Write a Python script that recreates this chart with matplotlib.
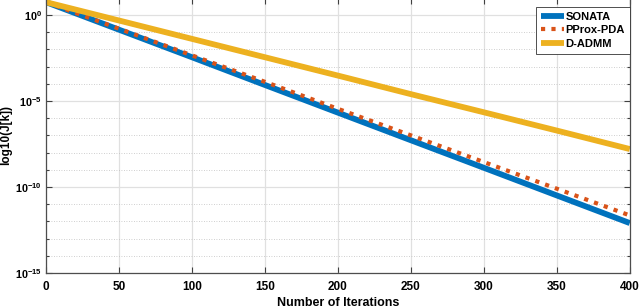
import numpy as np
import matplotlib
matplotlib.use("Agg")
import matplotlib.pyplot as plt
from matplotlib.ticker import FixedLocator, FixedFormatter, NullFormatter

plt.rcParams["font.family"] = ["Liberation Sans", "DejaVu Sans"]
plt.rcParams["font.weight"] = "bold"
plt.rcParams["mathtext.fontset"] = "custom"
plt.rcParams["mathtext.rm"] = "Liberation Sans:bold"
plt.rcParams["mathtext.bf"] = "Liberation Sans:bold"

# === data ===
iterations = [0, 50, 100, 150, 200, 250, 300, 350, 400]
sonata = [5.6, 1.4e-1, 3.5e-3, 8.5e-5, 2.1e-6, 5.2e-8, 1.3e-9, 3.2e-11, 7.9e-13]
pprox_pda = [5.6, 1.6e-1, 4.5e-3, 1.3e-4, 3.5e-6, 1.0e-7, 2.8e-9, 7.9e-11, 2.2e-12]
d_admm = [5.6, 4.8e-1, 4.1e-2, 3.5e-3, 3.0e-4, 2.5e-5, 2.2e-6, 1.9e-7, 1.6e-8]

x_ticks = [0, 50, 100, 150, 200, 250, 300, 350, 400]
y_major = [1e-15, 1e-10, 1e-5, 1e0]
y_major_labels = [r"$10^{-15}$", r"$10^{-10}$", r"$10^{-5}$", r"$10^{0}$"]

# === plot ===
fig = plt.figure(figsize=(6.4, 3.08), dpi=100)
ax = fig.add_axes([0.072, 0.114, 0.912, 0.893])

ax.semilogy(iterations, sonata, color="#0072BD", lw=4.2, label="SONATA", solid_capstyle="butt")
ax.semilogy(iterations, pprox_pda, color="#D95319", lw=3.0, linestyle=(0, (1, 1.5)),
            dash_capstyle="butt", label="PProx-PDA")
ax.semilogy(iterations, d_admm, color="#EDB120", lw=4.2, label="D-ADMM", solid_capstyle="butt")

ax.set_xlim(0, 400)
ax.set_ylim(1e-15, 10)

ax.xaxis.set_major_locator(FixedLocator(x_ticks))
ax.yaxis.set_major_locator(FixedLocator(y_major))
ax.yaxis.set_major_formatter(FixedFormatter(y_major_labels))
minor = [10.0 ** k for k in range(-15, 2) if k % 5 != 0]
ax.yaxis.set_minor_locator(FixedLocator(minor))
ax.yaxis.set_minor_formatter(NullFormatter())

ax.grid(True, which="major", color="0.88", lw=0.9, linestyle="-")
ax.grid(True, which="minor", axis="y", color="0.75", lw=0.6, linestyle=(0, (1, 2)))
ax.set_axisbelow(True)

ax.tick_params(which="both", direction="in", top=True, right=True,
               color="0.25", width=0.8)
ax.tick_params(axis="x", labelsize=8.5, pad=6)
ax.tick_params(axis="y", labelsize=7.8, pad=3)
ax.tick_params(which="major", length=4)
ax.tick_params(which="minor", length=2.5)
for s in ax.spines.values():
    s.set_color("0.3")
    s.set_linewidth(0.9)

ax.set_xlabel("Number of Iterations", fontsize=9, fontweight="bold", labelpad=3)
ax.set_ylabel("log10(J[k])", fontsize=8.5, fontweight="bold", labelpad=2)

leg = ax.legend(loc="upper right", bbox_to_anchor=(1.0, 0.967), fontsize=8,
                handlelength=2.0, handletextpad=0.15, borderpad=0.45, labelspacing=0.3,
                fancybox=False, framealpha=1, edgecolor="0.2", borderaxespad=0)
leg.get_frame().set_linewidth(0.6)
for t in leg.get_texts():
    t.set_fontweight("bold")

fig.savefig("out.png", dpi=100)
plt.close()
